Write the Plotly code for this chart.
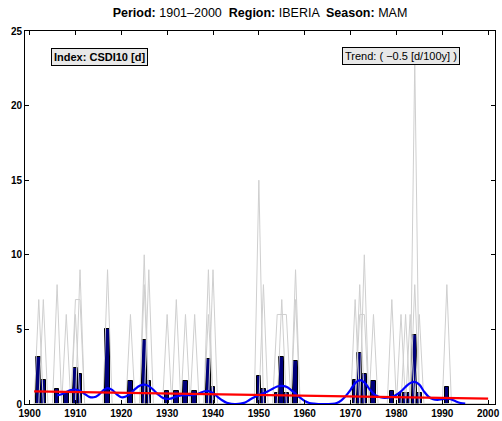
import plotly.graph_objects as go

# ---------------- data ----------------
bar_years = [1902, 1903, 1906, 1908, 1910, 1911, 1917, 1922, 1925, 1926,
             1930, 1932, 1934, 1936, 1939, 1940, 1950, 1951, 1954, 1955,
             1956, 1958, 1971, 1972, 1973, 1975, 1979, 1981, 1982, 1983,
             1984, 1985, 1991]
bar_values = [3.15, 1.63, 1.0, 0.77, 2.39, 2.03, 5.0, 1.52, 4.3, 1.52,
              0.9, 0.9, 1.52, 0.9, 3.03, 1.14, 1.9, 1.03, 0.77, 3.17,
              0.77, 2.9, 1.63, 3.39, 2.03, 1.52, 0.9, 0.77, 0.77, 0.77,
              4.65, 0.77, 1.14]

# station series (gray): peak years and values, zero elsewhere
st_a_years = [1902, 1906, 1910, 1911, 1917, 1922, 1925, 1930, 1934, 1939,
              1950, 1954, 1955, 1956, 1958, 1972, 1973, 1975, 1979, 1981,
              1984, 1991]
st_a_values = [7, 8, 7, 7, 9, 6, 10, 6, 6, 9,
               15, 6, 6, 6, 9, 6, 6, 6, 7, 6,
               23, 8]
st_b_years = [1903, 1908, 1911, 1926, 1932, 1936, 1940, 1951, 1955, 1973,
              1982, 1985]
st_b_values = [7, 6, 9, 9, 7, 6, 9, 8, 7, 10,
               6, 6]
st_c_years = [1910, 1925, 1939, 1958, 1972, 1983]
st_c_values = [6, 8, 6, 7, 8, 6]
st_d_years = [1971, 1984]
st_d_values = [7, 8]

smooth_years = list(range(1906, 1996))
smooth_values = [0.58, 0.65, 0.8, 0.93, 0.97, 0.88, 0.68, 0.48, 0.45, 0.6,
                 0.9, 1.07, 0.95, 0.65, 0.45, 0.5, 0.72, 1.0, 1.22, 1.3,
                 1.2, 0.95, 0.65, 0.42, 0.33, 0.38, 0.5, 0.58, 0.6, 0.6,
                 0.62, 0.72, 0.84, 0.87, 0.72, 0.48, 0.25, 0.08, 0.01, 0.0,
                 0.02, 0.1, 0.28, 0.45, 0.6, 0.72, 0.85, 1.02, 1.17, 1.22,
                 1.15, 0.95, 0.68, 0.42, 0.2, 0.07, 0.02, 0.0, 0.0, 0.0,
                 0.01, 0.07, 0.25, 0.55, 0.95, 1.4, 1.6, 1.45, 1.05, 0.7,
                 0.5, 0.42, 0.42, 0.48, 0.62, 0.85, 1.15, 1.4, 1.48, 1.3,
                 0.85, 0.5, 0.32, 0.28, 0.33, 0.37, 0.3, 0.17, 0.07, 0.02]

trend_years = [1901, 2000]
trend_values = [0.85, 0.36]

all_years = list(range(1901, 2001))
x_tick_vals = list(range(1900, 2001, 10))
y_tick_vals = [0, 5, 10, 15, 20, 25]

# ---------------- figure ----------------
fig = go.Figure()


def full_series(years, values):
    d = dict(zip(years, values))
    return [d.get(y, 0) for y in all_years]


for yrs, vals in [(st_a_years, st_a_values), (st_b_years, st_b_values),
                  (st_c_years, st_c_values), (st_d_years, st_d_values)]:
    fig.add_trace(go.Scatter(x=all_years, y=full_series(yrs, vals), mode="lines",
                             line=dict(color="#cfcfcf", width=1),
                             hoverinfo="skip", showlegend=False))

fig.add_trace(go.Bar(x=bar_years, y=bar_values, width=1.0,
                     marker=dict(color="#00007a", line=dict(color="black", width=1)),
                     showlegend=False))

fig.add_trace(go.Scatter(x=smooth_years, y=smooth_values, mode="lines",
                         line=dict(color="#0000ff", width=2.2, shape="spline"),
                         showlegend=False))

fig.add_trace(go.Scatter(x=trend_years, y=trend_values, mode="lines",
                         line=dict(color="#ff0000", width=2.2),
                         showlegend=False))

axis_common = dict(showline=True, linecolor="black", linewidth=1, mirror="ticks",
                   ticks="inside", ticklen=4, tickcolor="black", showgrid=False,
                   zeroline=False, ticklabeloverflow="allow",
                   tickfont=dict(family="Liberation Sans, Arial, sans-serif",
                                 size=10, color="black", weight="bold"))

fig.update_xaxes(range=[1899, 2001.5], tickvals=x_tick_vals, **axis_common)
fig.update_yaxes(range=[0, 25], tickvals=y_tick_vals, **axis_common)

fig.update_layout(
    width=502, height=421,
    margin=dict(l=25, r=2, t=31, b=16),
    paper_bgcolor="white", plot_bgcolor="white",
    bargap=0,
    title=dict(text="<b>Period:</b> 1901\u20132000  <b>Region:</b> IBERIA  <b>Season:</b> MAM",
               x=0.5, xref="paper", xanchor="center",
               y=1 - 13 / 421, yref="container", yanchor="middle",
               font=dict(family="Liberation Sans, Arial, sans-serif", size=12.5, color="black")),
    font=dict(family="Liberation Sans, Arial, sans-serif", color="black"),
    annotations=[
        dict(text="<b>Index: CSDI10 [d]</b>", xref="paper", yref="paper",
             x=0.158, y=0.929, xanchor="center", yanchor="middle", showarrow=False,
             bgcolor="#e8e8e8", bordercolor="black", borderwidth=1, borderpad=2,
             font=dict(size=11, color="black")),
        dict(text="Trend: ( \u22120.5 [d/100y] )", xref="paper", yref="paper",
             x=0.8, y=0.932, xanchor="center", yanchor="middle", showarrow=False,
             bgcolor="#e8e8e8", bordercolor="black", borderwidth=1, borderpad=2,
             font=dict(size=11, color="black")),
    ],
)

fig.write_html("out.html", config={"displayModeBar": False},
               post_script="document.body.style.margin='0';document.body.style.overflow='hidden';")
